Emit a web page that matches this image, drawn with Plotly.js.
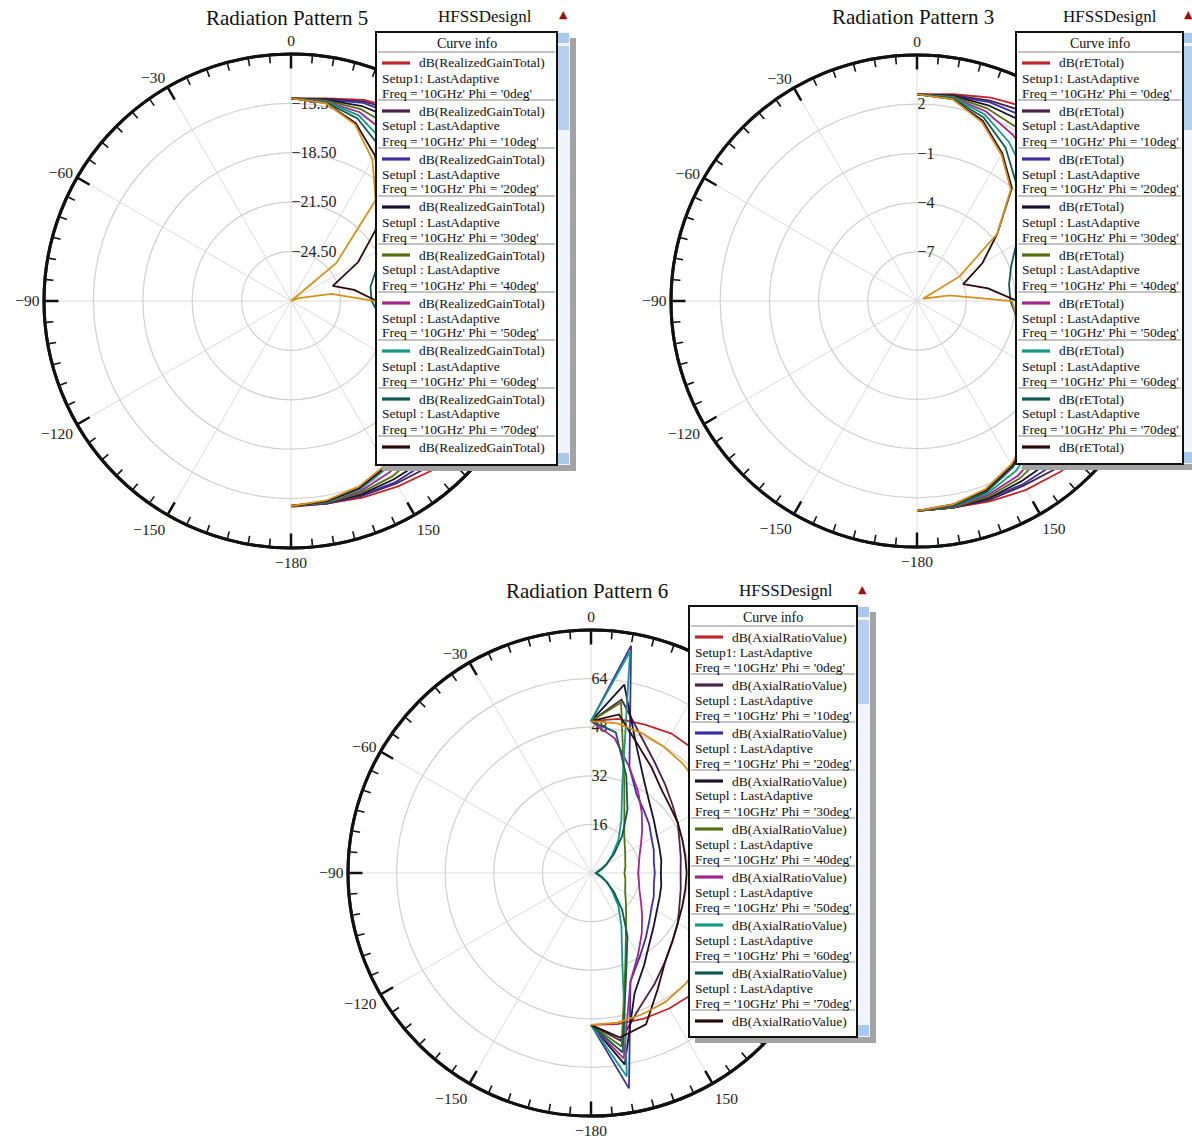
<!DOCTYPE html>
<html><head><meta charset="utf-8">
<script src="https://cdn.plot.ly/plotly-3.0.1.min.js"></script>
<style>body{margin:0;background:#fff;} #chart{width:1192px;height:1138px;}</style>
</head><body><div id="chart"></div>
<script>
// ---------- data ----------
const THETA = [0,10,20,30,40,50,60,70,80,90,100,110,120,130,140,150,160,170,180];
const PHI = [0,10,20,30,40,50,60,70,80,90];
const COLORS = ['#c0272d','#4b2346','#3c30a0','#1a1030','#55700f','#a3268c','#17998a','#0f5b52','#2a0c0c','#d4921e'];

// Radiation Pattern 5 : dB(RealizedGainTotal)
const gain0  = [-15.2,-15.0,-14.5,-14.1,-13.8,-13.5,-13.3,-13.2,-13.1,-13.1,-13.2,-13.3,-13.5,-13.8,-14.1,-14.5,-14.8,-15.0,-15.0];
const gain10 = [-15.2,-15.05,-14.6,-14.25,-14.0,-13.8,-13.7,-13.6,-13.6,-13.6,-13.7,-13.8,-14.0,-14.2,-14.4,-14.7,-14.9,-15.0,-15.05];
const gain20 = [-15.2,-15.1,-14.7,-14.5,-14.3,-14.2,-14.1,-14.1,-14.1,-14.1,-14.2,-14.3,-14.4,-14.6,-14.7,-14.8,-14.95,-15.0,-15.05];
const gain30 = [-15.2,-15.1,-14.9,-14.8,-14.8,-14.8,-14.9,-15.0,-15.1,-15.1,-15.1,-15.0,-14.9,-14.9,-14.9,-15.0,-15.0,-15.05,-15.05];
const gain40 = [-15.2,-15.15,-15.1,-15.3,-15.6,-15.9,-16.2,-16.4,-16.5,-16.5,-16.4,-16.2,-15.9,-15.6,-15.4,-15.2,-15.1,-15.05,-15.05];
const gain50 = [-15.2,-15.2,-15.3,-15.8,-16.4,-17.0,-17.6,-18.0,-18.2,-18.2,-18.0,-17.6,-17.0,-16.4,-15.9,-15.5,-15.2,-15.1,-15.05];
const gain60 = [-15.2,-15.2,-15.5,-16.3,-17.3,-18.4,-19.4,-20.2,-20.6,-20.6,-20.2,-19.4,-18.4,-17.3,-16.4,-15.8,-15.3,-15.1,-15.05];
const gain70 = [-15.2,-15.25,-15.7,-16.7,-18.0,-19.5,-20.9,-22.0,-22.6,-22.6,-22.0,-20.9,-19.5,-18.0,-16.8,-16.0,-15.4,-15.15,-15.05];
const gain80 = [-15.2,-15.3,-16.0,-17.3,-19.0,-20.8,-22.8,-24.8,-23.6,-22.3,-20.5,-19.5,-18.5,-17.5,-16.6,-15.9,-15.4,-15.15,-15.05];
const gain90 = [-15.2,-15.3,-16.1,-17.6,-19.5,-23.9,-27.5,-27.0,-25.0,-22.4,-21.0,-19.8,-18.7,-17.7,-16.8,-16.0,-15.5,-15.2,-15.05];

// Radiation Pattern 3 : dB(rETotal)
const etot0  = [2.6,2.8,3.2,3.6,3.9,4.1,4.3,4.4,4.5,4.5,4.4,4.3,4.1,3.9,3.6,3.3,3.0,2.8,2.8];
const etot10 = [2.6,2.75,3.0,3.3,3.6,3.8,3.9,4.0,4.1,4.1,4.0,3.9,3.7,3.5,3.3,3.0,2.9,2.8,2.8];
const etot20 = [2.6,2.7,2.9,3.0,3.2,3.3,3.4,3.4,3.5,3.5,3.4,3.3,3.2,3.1,3.0,2.9,2.8,2.8,2.8];
const etot30 = [2.6,2.7,2.7,2.7,2.6,2.5,2.4,2.4,2.3,2.3,2.4,2.5,2.6,2.6,2.7,2.7,2.8,2.8,2.8];
const etot40 = [2.6,2.65,2.5,2.2,1.8,1.4,1.0,0.8,0.6,0.6,0.8,1.1,1.5,1.9,2.2,2.5,2.7,2.8,2.8];
const etot50 = [2.6,2.6,2.3,1.7,1.0,0.3,-0.3,-0.8,-1.0,-1.0,-0.7,-0.2,0.5,1.2,1.8,2.3,2.6,2.75,2.8];
const etot60 = [2.6,2.6,2.1,1.2,0.2,-0.8,-1.7,-2.4,-2.7,-2.7,-2.3,-1.5,-0.6,0.4,1.3,2.0,2.5,2.7,2.8];
const etot70 = [2.6,2.55,1.9,0.8,-0.6,-1.9,-3.0,-3.9,-4.3,-4.3,-3.8,-2.8,-1.6,-0.4,0.8,1.7,2.4,2.7,2.8];
const etot80 = [2.6,2.5,1.7,0.4,-1.0,-3.6,-5.4,-7.0,-5.6,-3.9,-3.5,-2.6,-1.5,-0.4,0.7,1.6,2.3,2.6,2.8];
const etot90 = [2.6,2.5,1.6,0.3,-1.1,-3.6,-7.0,-9.6,-8.0,-4.2,-3.8,-2.8,-1.7,-0.5,0.6,1.5,2.2,2.6,2.8];

// Radiation Pattern 6 : dB(AxialRatioValue)
const ar0  = [50,51.5,52,53,53,52.5,52,51.5,51,51,51,51.5,52,52.5,52,51.5,51,50.5,50];
const ar10 = [50,58,48,42,38,35,33,31,30,29.5,30,31,33,35,38,42,47,56,50];
const ar20 = [50,76,37,30,27,25,23,22,21,21,21,22,23,25,28,32,38,72,50];
const ar30 = [50,63,44,35,30,27,25,24,23.5,23,23.5,24,25,27,30,35,42,64,50];
const ar40 = [50,57,32,22,17,14.5,13,12,11.5,11,11.5,12,13,15,18,23,33,58,50];
const ar50 = [50,45,37,31,26,22,19,17,16,15.5,16,17,19,22,26,31,38,62,50];
const ar60 = [50,74,30,20,14,9,6,4,2.5,2,2.5,4,6,9,14,20,30,68,50];
const ar70 = [50,47,34,24,16,10,6,3.5,2,1.5,2,3.5,6,10,16,24,34,60,50];
const ar80 = [50,53,45,40,36,34,33,32,31.5,31.5,31.5,32,33,35,38,44,53,55,50];
const ar90 = [50,50,49,48,47,46,45.5,45,45,45,45,45.5,46,47,48,49,49.5,50,50];

// axis ticks (labels 30..120 sit under the "Curve info" box in the reference, so they are blank)
const ANG_TICKVALS = [0,30,60,90,120,150,180,210,240,270,300,330];
const ANG_TICKTEXT = ['0','','','','','150','\u2212180','\u2212150','\u2212120','\u221290','\u221260','\u221230'];
const R5_TICKVALS = [-24.5,-21.5,-18.5,-15.5];
const R5_TICKTEXT = ['\u221224.50','\u221221.50','\u221218.50','\u221215.50'];
const R3_TICKVALS = [-7,-4,-1,2];
const R3_TICKTEXT = ['\u22127','\u22124','\u22121','2'];
const R6_TICKVALS = [16,32,48,64];
const R6_TICKTEXT = ['16','32','48','64'];

// ---------- layout helpers ----------
const W = 1192, H = 1138;
const SERIF = '"Liberation Serif", "DejaVu Serif", serif';
const fx = x => x / W;
const fy = y => 1 - y / H;

const plots = [
  {base:'polar', over:'polar4', title:'Radiation Pattern 5', qty:'dB(RealizedGainTotal)',
   series:[gain0,gain10,gain20,gain30,gain40,gain50,gain60,gain70,gain80,gain90],
   range:[-27.5,-12.5], rv:R5_TICKVALS, rt:R5_TICKTEXT, cx:291, cy:301, R:247,
   tx:287, ty:18, hx:485, hy:16, trx:563, tryy:14,
   L:{x0:376, x1:557, sx1:570, y0:32, y1:465, first:63}},
  {base:'polar2', over:'polar5', title:'Radiation Pattern 3', qty:'dB(rETotal)',
   series:[etot0,etot10,etot20,etot30,etot40,etot50,etot60,etot70,etot80,etot90],
   range:[-10,5], rv:R3_TICKVALS, rt:R3_TICKTEXT, cx:917, cy:301, R:246,
   tx:913, ty:17, hx:1110, hy:16, trx:1188, tryy:14,
   L:{x0:1016, x1:1183, sx1:1196, y0:32, y1:464, first:63}},
  {base:'polar3', over:'polar6', title:'Radiation Pattern 6', qty:'dB(AxialRatioValue)',
   series:[ar0,ar10,ar20,ar30,ar40,ar50,ar60,ar70,ar80,ar90],
   range:[0,80], rv:R6_TICKVALS, rt:R6_TICKTEXT, cx:591, cy:873, R:243,
   tx:587, ty:591, hx:786, hy:590, trx:862, tryy:589,
   L:{x0:689, x1:857, sx1:870, y0:606, y1:1037, first:637}}
];

const data = [];
const layout = {
  width:W, height:H, margin:{l:0,r:0,t:0,b:0}, paper_bgcolor:'#fff', showlegend:false,
  shapes:[], annotations:[]
};

function txt(x, y, s, size, anchor, yanchor) {
  return {xref:'paper', yref:'paper', x:fx(x), y:fy(y), text:s, showarrow:false,
          xanchor:anchor || 'left', yanchor:yanchor || 'middle', align:'left', borderpad:0,
          font:{family:SERIF, size:size || 13, color:'#111'}};
}
function rect(x0, y0, x1, y1, fill, lc, lw) {
  return {type:'rect', xref:'paper', yref:'paper', x0:fx(x0), x1:fx(x1), y0:fy(y0), y1:fy(y1),
          fillcolor:fill, line:{color:lc || 'rgba(0,0,0,0)', width:lw || 0}, layer:'above'};
}
function hline(x0, x1, y, color, w) {
  return {type:'line', xref:'paper', yref:'paper', x0:fx(x0), x1:fx(x1), y0:fy(y), y1:fy(y),
          line:{color:color, width:w}, layer:'above'};
}

plots.forEach(p => {
  const dom = {x:[fx(p.cx - p.R), fx(p.cx + p.R)], y:[fy(p.cy + p.R), fy(p.cy - p.R)]};
  layout[p.base] = {
    domain:dom, bgcolor:'rgba(0,0,0,0)',
    radialaxis:{range:p.range, tickmode:'array', tickvals:p.rv, ticktext:p.rt, angle:90, side:'clockwise',
      tickangle:90, showline:false, ticks:'', gridcolor:'#d0d0d0', gridwidth:1.2,
      tickfont:{family:SERIF, size:16, color:'#222'}},
    angularaxis:{rotation:90, direction:'clockwise', thetaunit:'degrees', tickmode:'array',
      tickvals:ANG_TICKVALS, ticktext:ANG_TICKTEXT, ticks:'inside', ticklen:13, tickwidth:2.5,
      tickcolor:'#111', showline:true, linecolor:'#111', linewidth:3,
      gridcolor:'#dcdcdc', gridwidth:1, tickfont:{family:SERIF, size:15.5, color:'#222'}}
  };
  layout[p.over] = {
    domain:dom, bgcolor:'rgba(0,0,0,0)',
    radialaxis:{range:p.range, visible:false},
    angularaxis:{rotation:90, direction:'clockwise', thetaunit:'degrees', tickmode:'linear', tick0:0, dtick:5,
      ticks:'inside', ticklen:7, tickwidth:1.6, tickcolor:'#111', showticklabels:false,
      showgrid:false, showline:true, linecolor:'#111', linewidth:3}
  };
  p.series.forEach((vals, i) => {
    data.push({type:'scatterpolar', mode:'lines', subplot: i === 0 ? p.base : p.over,
      r:vals, theta:THETA, name:p.qty + " Phi='" + PHI[i] + "deg'",
      line:{color:COLORS[i], width:1.8}, hoverinfo:'skip'});
  });

  // titles
  layout.annotations.push(txt(p.tx, p.ty, p.title, 21, 'center'));
  layout.annotations.push(txt(p.hx, p.hy, 'HFSSDesignl', 17, 'center'));
  const tri = txt(p.trx, p.tryy, '\u25B2', 11, 'center');
  tri.font.color = '#9a1010'; tri.font.family = '"DejaVu Sans", sans-serif';
  layout.annotations.push(tri);

  // legend box ("Curve info")
  const L = p.L;
  layout.shapes.push(rect(L.x0 + 6, L.y0 + 6, L.sx1 + 6, L.y1 + 6, '#a3a3a3'));
  layout.shapes.push(rect(L.x1, L.y0, L.sx1, L.y1, '#f1f5fb'));
  layout.shapes.push(rect(L.x1 + 1, L.y0 + 1, L.sx1 - 1, L.y0 + 11, '#a9c8ee'));
  layout.shapes.push(rect(L.x1 + 1, L.y0 + 14, L.sx1 - 1, L.y0 + 98, '#b6d0f2'));
  layout.shapes.push(rect(L.x1 + 1, L.y1 - 12, L.sx1 - 1, L.y1 - 1, '#a9c8ee'));
  layout.shapes.push(rect(L.x0, L.y0, L.x1, L.y1, '#ffffff', '#111', 2));
  const cxL = (L.x0 + L.x1) / 2;
  layout.annotations.push(txt(cxL, L.y0 + 11, 'Curve info', 14, 'center'));
  for (let i = 0; i < 9; i++) {
    const ly = L.first + 48 * i;
    layout.shapes.push(hline(L.x0 + 2, L.x1 - 2, ly - 11, '#c4c4c4', 2));
    layout.shapes.push(hline(L.x0 + 6, L.x0 + 34, ly, COLORS[i], 3.2));
    layout.annotations.push(txt(L.x0 + 42, ly, p.qty, 13.5));
    if (i < 8) {
      const s2 = i === 0 ? 'Setup1: LastAdaptive' : 'Setupl : LastAdaptive';
      layout.annotations.push(txt(L.x0 + 5, ly + 15, s2, 13.5));
      layout.annotations.push(txt(L.x0 + 5, ly + 30, "Freq = '10GHz' Phi = '" + PHI[i] + "deg'", 13.5));
    }
  }
});

Plotly.newPlot('chart', data, layout, {staticPlot:true, displayModeBar:false});
</script>
</body></html>
